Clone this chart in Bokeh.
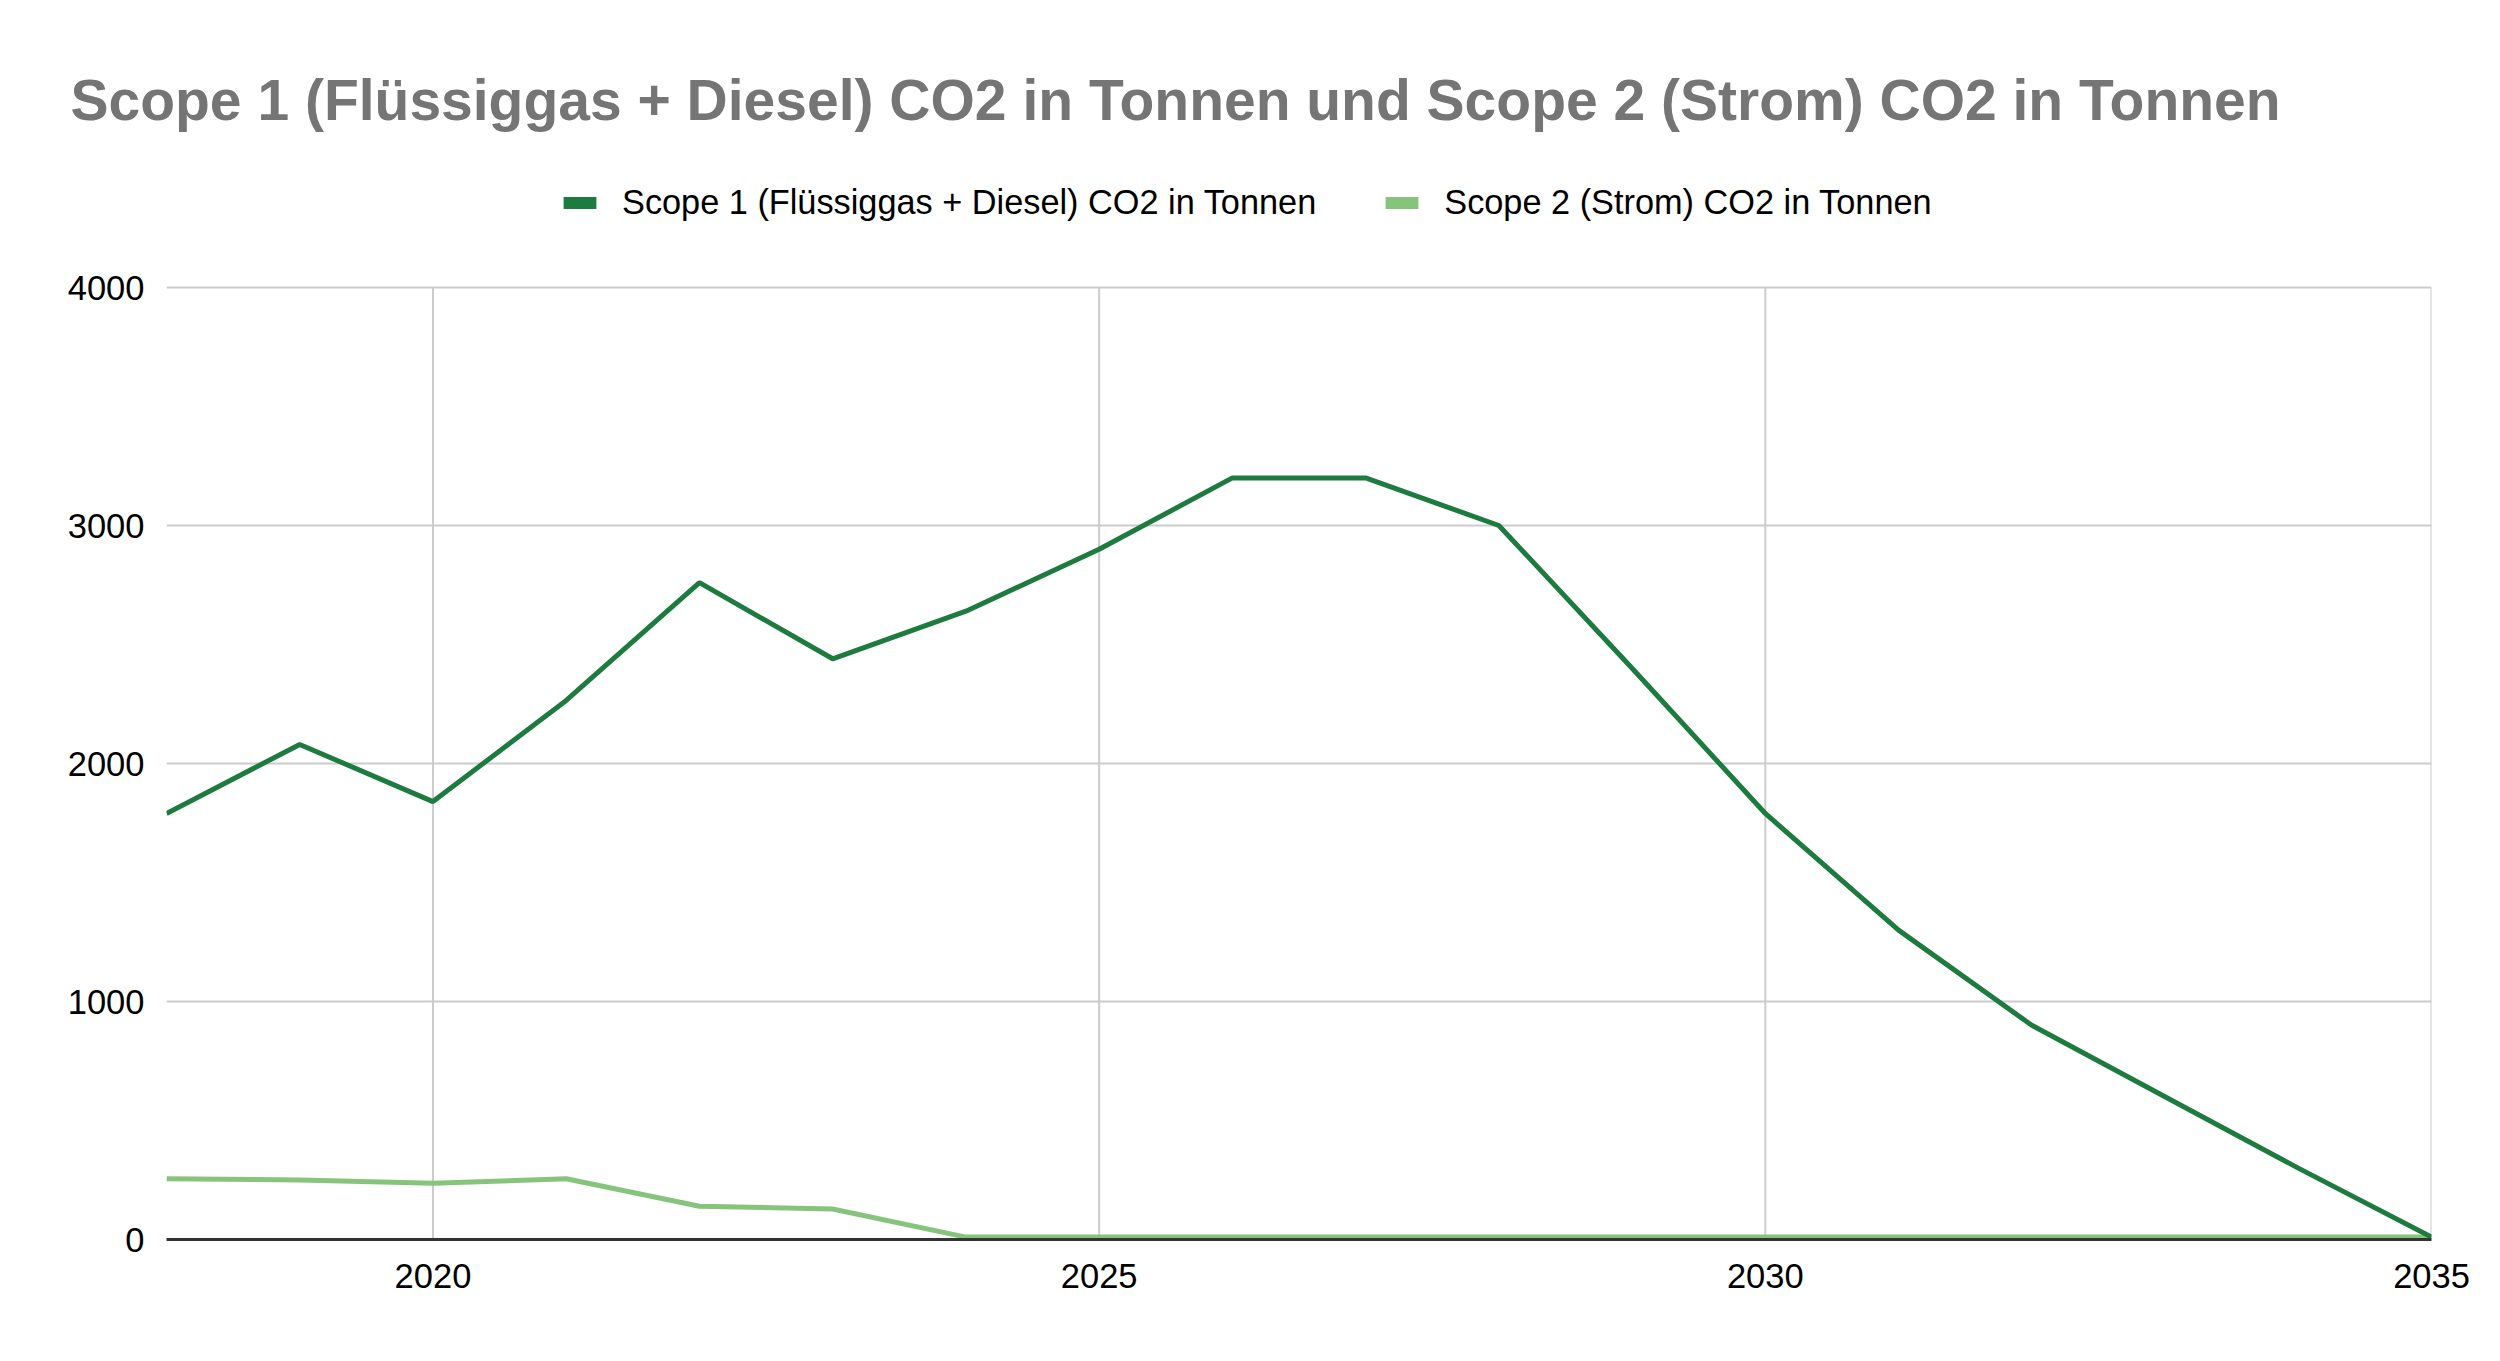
from bokeh.plotting import figure
from bokeh.models import ColumnDataSource, FixedTicker, Legend, LegendItem
from bokeh.embed import file_html
from bokeh.resources import INLINE

# ---- data ----
years = list(range(2018, 2036))
scope1 = [1790, 2080, 1840, 2265, 2760, 2440, 2640, 2900, 3200, 3200, 3000, 2400,
          1790, 1300, 900, 600, 300, 10]
scope2 = [255, 250, 236, 255, 140, 128, 10, 10, 10, 10, 10, 10,
          10, 10, 10, 10, 10, 10]
x_ticks = [2020, 2025, 2030, 2035]
y_ticks = [0, 1000, 2000, 3000, 4000]
y_max_tick = 4000
name1 = "Scope 1 (Flüssiggas + Diesel) CO2 in Tonnen"
name2 = "Scope 2 (Strom) CO2 in Tonnen"
title_text = "Scope 1 (Flüssiggas + Diesel) CO2 in Tonnen und Scope 2 (Strom) CO2 in Tonnen"

C1 = "#1e7b40"
C2 = "#86c47c"
GRID = "#cccccc"
FONT = "Liberation Sans"

# layout (pixels)
W, H = 2484, 1345
FRAME_L, FRAME_R = 166, 2431
FRAME_T, FRAME_B = 170, 1239      # frame top extends above the 4000 line to hold the legend
Y4000_PX = 287
y_end = y_max_tick * (FRAME_B - FRAME_T) / (FRAME_B - Y4000_PX)

src = ColumnDataSource(dict(x=years, s1=scope1, s2=scope2))
gsrc = ColumnDataSource(dict(x=x_ticks, y0=[0] * len(x_ticks),
                             y1=[y_max_tick] * len(x_ticks)))

p = figure(width=W, height=H, output_backend="svg", toolbar_location=None,
           x_range=(years[0], years[-1]), y_range=(0, y_end),
           min_border_left=FRAME_L, min_border_right=W - FRAME_R,
           min_border_top=FRAME_T, min_border_bottom=H - FRAME_B)
p.outline_line_color = None
p.background_fill_color = "white"

p.title.text = title_text
p.title.text_font = FONT
p.title.text_font_style = "bold"
p.title.text_font_size = "57px"
p.title.text_color = "#757575"
p.title.align = "left"
p.title.offset = -96
p.title.standoff = 78

# vertical grid lines at the x ticks, limited to the 0..4000 band
p.segment(x0="x", y0="y0", x1="x", y1="y1", source=gsrc,
          line_color=GRID, line_width=2)

r2 = p.line("x", "s2", source=src, line_color=C2, line_width=5)
r1 = p.line("x", "s1", source=src, line_color=C1, line_width=5)

# zero-area swatch renderers so the legend shows filled swatches
e1 = p.quad(left="x", right="x", top="s1", bottom="s1", source=src,
            fill_color=C1, line_color=None)
e2 = p.quad(left="x", right="x", top="s2", bottom="s2", source=src,
            fill_color=C2, line_color=None)

legend = Legend(items=[LegendItem(label=name1, renderers=[e1]),
                       LegendItem(label=name2, renderers=[e2])],
                orientation="horizontal", location=(393, 1017),
                glyph_width=41, glyph_height=15, label_standoff=22, spacing=65,
                padding=0, margin=0, border_line_color=None,
                background_fill_alpha=0,
                label_text_font=FONT, label_text_font_size="34.3px",
                label_text_color="#000000")
p.add_layout(legend, "center")

# axes
for ax in (p.xaxis[0], p.yaxis[0]):
    ax.major_tick_line_color = None
    ax.minor_tick_line_color = None
    ax.major_tick_out = 0
    ax.major_tick_in = 0
    ax.major_label_text_font = FONT
    ax.major_label_text_font_size = "34.5px"
    ax.major_label_text_color = "#000000"

p.xaxis.ticker = FixedTicker(ticks=x_ticks)
p.yaxis.ticker = FixedTicker(ticks=y_ticks)
p.xaxis.axis_line_color = "#333333"
p.xaxis.axis_line_width = 3
p.xaxis.major_label_standoff = 24
p.yaxis.axis_line_color = None
p.yaxis.major_label_standoff = 22

p.xgrid.grid_line_color = None
p.ygrid.grid_line_color = GRID
p.ygrid.grid_line_width = 2

open("out.html", "w").write(file_html(p, INLINE))
